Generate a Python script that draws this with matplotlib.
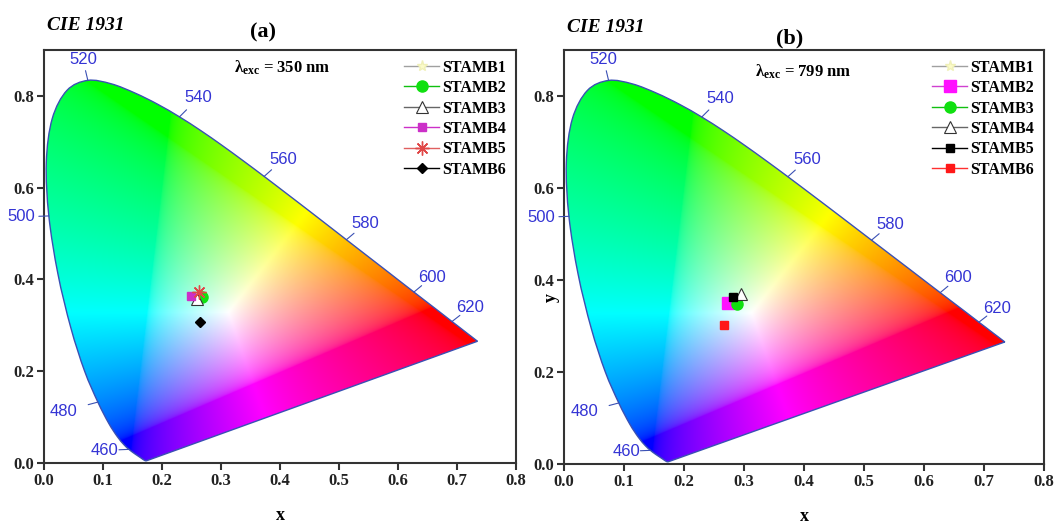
import numpy as np
import matplotlib
matplotlib.use('Agg')
import matplotlib.pyplot as plt
from matplotlib.patches import PathPatch
from matplotlib.path import Path

# ---------------- data ----------------
# CIE 1931 2-degree spectral locus (chromaticity x, y), 380-700 nm, 5 nm step
wavelengths = list(range(380, 705, 5))
locus_x = [0.1741, 0.1740, 0.1738, 0.1736, 0.1733, 0.1730, 0.1726, 0.1721, 0.1714, 0.1703,
           0.1689, 0.1669, 0.1644, 0.1611, 0.1566, 0.1510, 0.1440, 0.1355, 0.1241, 0.1096,
           0.0913, 0.0687, 0.0454, 0.0235, 0.0082, 0.0039, 0.0139, 0.0389, 0.0743, 0.1142,
           0.1547, 0.1929, 0.2296, 0.2658, 0.3016, 0.3373, 0.3731, 0.4087, 0.4441, 0.4788,
           0.5125, 0.5448, 0.5752, 0.6029, 0.6270, 0.6482, 0.6658, 0.6801, 0.6915, 0.7006,
           0.7079, 0.7140, 0.7190, 0.7230, 0.7260, 0.7283, 0.7300, 0.7311, 0.7320, 0.7327,
           0.7334, 0.7340, 0.7344, 0.7346, 0.7347]
locus_y = [0.0050, 0.0050, 0.0049, 0.0049, 0.0048, 0.0048, 0.0048, 0.0048, 0.0051, 0.0058,
           0.0069, 0.0086, 0.0109, 0.0138, 0.0177, 0.0227, 0.0297, 0.0399, 0.0578, 0.0868,
           0.1327, 0.2007, 0.2950, 0.4127, 0.5384, 0.6548, 0.7502, 0.8120, 0.8338, 0.8262,
           0.8059, 0.7816, 0.7543, 0.7243, 0.6923, 0.6589, 0.6245, 0.5896, 0.5547, 0.5202,
           0.4866, 0.4544, 0.4242, 0.3965, 0.3725, 0.3514, 0.3340, 0.3197, 0.3083, 0.2993,
           0.2920, 0.2859, 0.2809, 0.2770, 0.2740, 0.2717, 0.2700, 0.2689, 0.2680, 0.2673,
           0.2666, 0.2660, 0.2656, 0.2654, 0.2653]
label_wavelengths = [460, 480, 500, 520, 540, 560, 580, 600, 620]

samples = ['STAMB1', 'STAMB2', 'STAMB3', 'STAMB4', 'STAMB5', 'STAMB6']
a_x = [0.262, 0.267, 0.259, 0.249, 0.263, 0.264]
a_y = [0.366, 0.362, 0.357, 0.364, 0.372, 0.307]
b_x = [0.283, 0.274, 0.288, 0.295, 0.282, 0.267]
b_y = [0.361, 0.349, 0.348, 0.370, 0.363, 0.302]

x_ticks = [0.0, 0.1, 0.2, 0.3, 0.4, 0.5, 0.6, 0.7, 0.8]
y_ticks = [0.0, 0.2, 0.4, 0.6, 0.8]

# ---------------- styles ----------------
plt.rcParams['mathtext.fontset'] = 'custom'
plt.rcParams['mathtext.rm'] = 'Liberation Serif'
plt.rcParams['mathtext.bf'] = 'Liberation Serif:bold'
plt.rcParams['mathtext.it'] = 'Liberation Serif:italic'

SERIF = 'Liberation Serif'
WL_COLOR = '#3434d4'
OUTLINE = '#3a50b4'

style_a = [
    dict(marker='*', ms=8, mfc='#fbfbc8', mec='#f0f0b8', color='#a0a0a0'),
    dict(marker='o', ms=8, mfc='#10e010', mec='#10e010', color='#10c010'),
    dict(marker='^', ms=8, mfc='white', mec='#333333', color='#666666', mew=0.8),
    dict(marker='s', ms=5.5, mfc='#cc30c8', mec='#cc30c8', color='#cc30c8'),
    dict(marker=(8, 2, 0), ms=10, mfc='#e04848', mec='#e04848', color='#e06060', mew=1.0),
    dict(marker='D', ms=5.5, mfc='black', mec='black', color='black'),
]
style_b = [
    dict(marker='*', ms=8, mfc='#fbfbc8', mec='#f0f0b8', color='#a0a0a0'),
    dict(marker='s', ms=8, mfc='#ff10ff', mec='#ff10ff', color='#d040d0'),
    dict(marker='o', ms=8, mfc='#10e010', mec='#10e010', color='#10c010'),
    dict(marker='^', ms=8, mfc='white', mec='#333333', color='#666666', mew=0.8),
    dict(marker='s', ms=5.5, mfc='black', mec='black', color='black'),
    dict(marker='s', ms=5.5, mfc='#ff1818', mec='#ff1818', color='#ff3030'),
]

# label offsets (pixels, display coords) relative to the locus point
label_offsets = {460: (-24, -1), 480: (-34, -9), 500: (-28, -1), 520: (-5, 21),
                 540: (19, 19), 560: (19, 17), 580: (19, 16), 600: (18, 15), 620: (18, 14)}


def chroma_image():
    xs = np.linspace(0.0, 0.8, 640)
    ys = np.linspace(0.0005, 0.9, 720)
    X, Y = np.meshgrid(xs, ys)
    Xc = X / Y
    Yc = np.ones_like(X)
    Zc = (1 - X - Y) / Y
    # wide-gamut (Adobe RGB 1998) primaries
    R = 2.0413690 * Xc - 0.5649464 * Yc - 0.3446944 * Zc
    G = -0.9692660 * Xc + 1.8760108 * Yc + 0.0415560 * Zc
    B = 0.0134474 * Xc - 0.1183897 * Yc + 1.0154096 * Zc
    rgb = np.stack([R, G, B], axis=-1)
    rgb = np.clip(rgb, 0, None)
    m = rgb.max(axis=-1, keepdims=True)
    m[m == 0] = 1
    rgb = rgb / m
    rgb = np.power(rgb, 1 / 2.2)
    return np.clip(rgb, 0, 1)


def locus_path():
    P = np.column_stack([locus_x, locus_y])
    n = len(P)
    verts = [P[0]]
    codes = [Path.MOVETO]
    for i in range(n - 1):
        p0 = P[max(i - 1, 0)]
        p1 = P[i]
        p2 = P[i + 1]
        p3 = P[min(i + 2, n - 1)]
        c1 = p1 + (p2 - p0) / 6.0
        c2 = p2 - (p3 - p1) / 6.0
        verts += [c1, c2, p2]
        codes += [Path.CURVE4] * 3
    verts += [P[0], P[0]]
    codes += [Path.LINETO, Path.CLOSEPOLY]
    return Path(np.array(verts), codes)


IMG = chroma_image()
LOCUS = locus_path()


def draw_panel(ax, xs, ys, styles):
    ax.set_xlim(0, 0.8)
    ax.set_ylim(0, 0.9)
    patch = PathPatch(LOCUS, facecolor='none', edgecolor=OUTLINE, lw=1.0, zorder=3)
    ax.add_patch(patch)
    im = ax.imshow(IMG, extent=[0, 0.8, 0, 0.9], origin='lower', aspect='auto',
                   interpolation='bilinear', zorder=1)
    im.set_clip_path(patch)

    for w in label_wavelengths:
        i = wavelengths.index(w)
        p = (locus_x[i], locus_y[i])
        dx, dy = label_offsets[w]
        u = np.array([dx, dy], float)
        u /= np.hypot(*u)
        L = 10
        ax.annotate('', xy=p, xytext=(u[0] * L * 0.72, u[1] * L * 0.72), textcoords='offset points',
                    arrowprops=dict(arrowstyle='-', color=OUTLINE, lw=0.8, shrinkA=0, shrinkB=0),
                    annotation_clip=False, zorder=4)
        ax.annotate(str(w), xy=p, xytext=(dx * 0.72, dy * 0.72), textcoords='offset points',
                    ha='center', va='center', fontsize=12, color=WL_COLOR,
                    family='Liberation Sans', annotation_clip=False, zorder=4)

    for name, x, y, st in zip(samples, xs, ys, styles):
        st = dict(st)
        ax.plot([x], [y], linestyle='-', lw=1.0, label=name, zorder=5,
                markeredgewidth=st.pop('mew', 1.0), **st)

    ax.set_xticks(x_ticks)
    ax.set_yticks(y_ticks)
    ax.set_xticklabels([f'{v:.1f}' for v in x_ticks])
    ax.set_yticklabels([f'{v:.1f}' for v in y_ticks])
    for lab in ax.get_xticklabels() + ax.get_yticklabels():
        lab.set_fontfamily(SERIF)
        lab.set_fontweight('bold')
        lab.set_fontsize(12)
        lab.set_color('#222222')
    ax.tick_params(direction='out', length=5, width=1.5, color='#333333', pad=2)
    for s in ax.spines.values():
        s.set_linewidth(1.5)
        s.set_color('#333333')
    ax.set_xlabel('x', family=SERIF, fontweight='bold', fontsize=13, labelpad=13)

    leg = ax.legend(loc='upper right', frameon=False, handlelength=2.2,
                    handletextpad=0.2, labelspacing=0.28, borderaxespad=0.2,
                    prop=dict(family=SERIF, weight='bold', size=11.5))
    return leg


fig = plt.figure(figsize=(10.6, 5.29), dpi=100)
axA = fig.add_axes([44 / 1060, 66 / 529, 472 / 1060, 413 / 529])
axB = fig.add_axes([564 / 1060, 65 / 529, 480 / 1060, 414 / 529])

draw_panel(axA, a_x, a_y, style_a)
draw_panel(axB, b_x, b_y, style_b)

fig.text(47 / 1060, 1 - 25 / 529, 'CIE 1931', family=SERIF, fontweight='bold', style='italic',
         fontsize=14, va='center', ha='left')
fig.text(567 / 1060, 1 - 28 / 529, 'CIE 1931', family=SERIF, fontweight='bold', style='italic',
         fontsize=14, va='center', ha='left')
fig.text(263 / 1060, 1 - 32 / 529, '(a)', family=SERIF, fontweight='bold', fontsize=16,
         va='center', ha='center')
fig.text(790 / 1060, 1 - 38 / 529, '(b)', family=SERIF, fontweight='bold', fontsize=16,
         va='center', ha='center')
fig.text(282 / 1060, 1 - 68 / 529, r'$\mathbf{\lambda_{exc}}$' + ' = 350 nm', family=SERIF,
         fontweight='bold', fontsize=12, va='center', ha='center')
fig.text(803 / 1060, 1 - 72 / 529, r'$\mathbf{\lambda_{exc}}$' + ' = 799 nm', family=SERIF,
         fontweight='bold', fontsize=12, va='center', ha='center')
fig.text(551 / 1060, 1 - 297 / 529, 'y', family=SERIF, fontweight='bold', fontsize=13,
         rotation=90, va='center', ha='center')

fig.savefig('out.png', dpi=100)
